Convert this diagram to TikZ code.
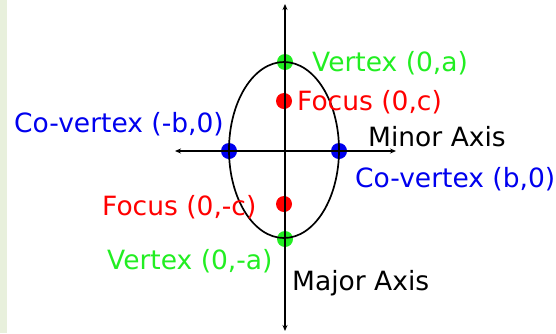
\documentclass[tikz,border=0pt]{standalone}
\usepackage{fontspec}
\setmainfont{DejaVu Sans}
\usetikzlibrary{arrows.meta}
\definecolor{verde}{HTML}{22EE22}
\definecolor{rojo}{HTML}{FF0000}
\definecolor{azul}{HTML}{0000EE}
\definecolor{fondo}{HTML}{E8F0DC}

\begin{document}
\begin{tikzpicture}[x=1pt, y=-1pt,
  etiqueta/.style={anchor=base west, inner sep=0pt, font=\fontsize{26.5}{31}\selectfont},
  punto/.style={circle, inner sep=0pt, minimum size=16pt},
  eje/.style={{Stealth[length=6pt,width=5pt]}-{Stealth[length=6pt,width=5pt]}, line width=1.7pt}]
  \useasboundingbox (0,0) rectangle (556,333);
  \fill[fondo] (0,0) rectangle (7,333);
  \coordinate (arriba) at (285,4);
  \coordinate (abajo) at (285,331);
  \coordinate (izq) at (175,151);
  \coordinate (der) at (396,151);
  % puntos
  \node[punto, fill=verde] (va) at (285,62) {};
  \node[punto, fill=verde] (vb) at (285,239) {};
  \node[punto, fill=rojo] (fa) at (284,101) {};
  \node[punto, fill=rojo] (fb) at (284,204) {};
  \node[punto, fill=azul] (ca) at (229,151) {};
  \node[punto, fill=azul] (cb) at (339,151) {};
  % ejes y elipse
  \draw[eje] (izq) -- (der);
  \draw[eje] (arriba) -- (abajo);
  \draw[line width=1.7pt] (284,150) ellipse [x radius=55pt, y radius=88pt];
  % textos
  \node[etiqueta, text=verde] (tva) at (312,71) {Vertex (0,a)};
  \node[etiqueta, text=rojo] (tfa) at (297,110) {Focus (0,c)};
  \node[etiqueta, text=azul] (tca) at (14,132) {Co-vertex (-b,0)};
  \node[etiqueta] (tmenor) at (368,146) {Minor Axis};
  \node[etiqueta, text=azul] (tcb) at (355,187) {Co-vertex (b,0)};
  \node[etiqueta, text=rojo] (tfb) at (102,215) {Focus (0,-c)};
  \node[etiqueta, text=verde] (tvb) at (107,269) {Vertex (0,-a)};
  \node[etiqueta] (tmayor) at (292,290) {Major Axis};
\end{tikzpicture}
\end{document}
